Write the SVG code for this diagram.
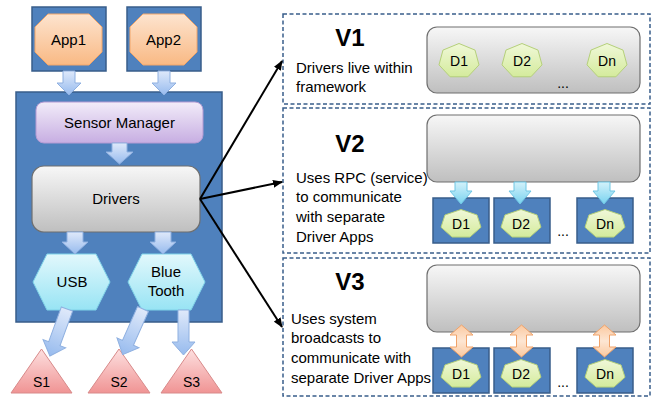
<svg xmlns="http://www.w3.org/2000/svg" xmlns:xlink="http://www.w3.org/1999/xlink" width="652" height="399" viewBox="0 0 652 399">
<defs>
<linearGradient id="gOrange" x1="0" y1="0" x2="0" y2="1"><stop offset="0" stop-color="#fde4cf"/><stop offset="1" stop-color="#f9b984"/></linearGradient>
<linearGradient id="gPurple" x1="0" y1="0" x2="0" y2="1"><stop offset="0" stop-color="#f2ecf9"/><stop offset="1" stop-color="#c7aee2"/></linearGradient>
<linearGradient id="gGray" x1="0" y1="0" x2="0" y2="1"><stop offset="0" stop-color="#f7f7f7"/><stop offset="1" stop-color="#bfbfbf"/></linearGradient>
<linearGradient id="gCyan" x1="0" y1="0" x2="0" y2="1"><stop offset="0" stop-color="#e2f8fc"/><stop offset="1" stop-color="#98e4f4"/></linearGradient>
<linearGradient id="gRed" x1="0" y1="0" x2="0" y2="1"><stop offset="0" stop-color="#fde0e0"/><stop offset="1" stop-color="#f09494"/></linearGradient>
<linearGradient id="gGreen" x1="0" y1="0" x2="0" y2="1"><stop offset="0" stop-color="#f0f8d8"/><stop offset="1" stop-color="#d4eb9c"/></linearGradient>
<linearGradient id="gBlueArrow" x1="0" y1="0" x2="0" y2="1"><stop offset="0" stop-color="#dfe9fa"/><stop offset="1" stop-color="#97bbee"/></linearGradient>
<linearGradient id="gCyanArrow" x1="0" y1="0" x2="0" y2="1"><stop offset="0" stop-color="#d3f2fb"/><stop offset="1" stop-color="#79d3ef"/></linearGradient>
<linearGradient id="gOrangeArrow" x1="0" y1="0" x2="0" y2="1"><stop offset="0" stop-color="#fbc9a0"/><stop offset="0.5" stop-color="#fde6d3"/><stop offset="1" stop-color="#fbc9a0"/></linearGradient>
<marker id="ah" markerWidth="10" markerHeight="8" refX="9" refY="4" orient="auto" markerUnits="userSpaceOnUse"><path d="M0,0 L10,4 L0,8 Z" fill="#000"/></marker>
<polygon id="h1" points="0,-17.5 16.03,-10.91 19.99,3.89 8.9,15.77 -8.9,15.77 -19.99,3.89 -16.03,-10.91"/>
<polygon id="h2" points="0,-14.5 16.03,-9.04 19.99,3.23 8.9,13.06 -8.9,13.06 -19.99,3.23 -16.03,-9.04"/>
<path id="diag" d="M-6,0 H6 V37 H12 L0,50 L-12,37 H-6 Z"/>
</defs>
<style>
text{font-family:"Liberation Sans",Arial,sans-serif;fill:#000}
.blue{fill:#4f81bd;stroke:#385d8a;stroke-width:1.5}
.oct{fill:url(#gOrange);stroke:#f2a66a;stroke-width:1}
.sm{fill:url(#gPurple);stroke:#b49ad3;stroke-width:1}
.gray{fill:url(#gGray);stroke:#6f6f6f;stroke-width:1.2}
.hex{fill:url(#gCyan);stroke:#7fd3e8;stroke-width:1}
.tri{fill:url(#gRed);stroke:#d88a8a;stroke-width:1}
.hept{fill:url(#gGreen);stroke:#b5d07a;stroke-width:1}
.barrow{fill:url(#gBlueArrow);stroke:#8fb0e0;stroke-width:1}
.carrow{fill:url(#gCyanArrow);stroke:#6fc6e4;stroke-width:1}
.oarrow{fill:url(#gOrangeArrow);stroke:#f0a36a;stroke-width:1}
.dash{fill:#fff;stroke:#385d8a;stroke-width:1.5;stroke-dasharray:4 2.5}
.lbl{font-size:15px;text-anchor:middle}
.dl{font-size:14px;text-anchor:middle}
.desc{font-size:15px}
.title{font-size:24px;font-weight:bold;text-anchor:middle}
.conn{stroke:#000;stroke-width:2;fill:none;marker-end:url(#ah)}
</style>
<rect width="652" height="399" fill="#fff"/>

<g id="app1"><rect class="blue" x="32" y="7" width="74" height="64"/><polygon class="oct" points="48,14 89,14 102,27 102,52 89,65 48,65 35,52 35,27"/><text class="lbl" x="68.5" y="45">App1</text></g>
<g id="app2"><rect class="blue" x="127" y="7" width="74" height="64"/><polygon class="oct" points="143,14 184,14 197,27 197,52 184,65 143,65 130,52 130,27"/><text class="lbl" x="163.5" y="45">App2</text></g>

<g id="framework"><rect class="blue" x="16" y="92" width="206" height="230"/></g>
<g id="sensor-manager"><rect class="sm" x="36" y="102" width="167" height="41" rx="8"/><text class="lbl" x="119.5" y="128">Sensor Manager</text></g>
<g id="drivers"><rect class="gray" x="32" y="166" width="168" height="66" rx="12"/><text class="lbl" x="116" y="204">Drivers</text></g>
<g id="usb"><polygon class="hex" points="33,282 47,254 96,254 110,282 96,310 47,310"/><text class="lbl" x="72" y="287">USB</text></g>
<g id="bluetooth"><polygon class="hex" points="128,282 142,254 191,254 205,282 191,310 142,310"/><text class="lbl" x="166" y="277">Blue</text><text class="lbl" x="166" y="296">Tooth</text></g>
<g id="s1"><polygon class="tri" points="11,393 41.5,349 72,393"/><text class="dl" x="41.5" y="387">S1</text></g>
<g id="s2"><polygon class="tri" points="88,393 119,349 150,393"/><text class="dl" x="119" y="387">S2</text></g>
<g id="s3"><polygon class="tri" points="161,393 191.5,349 222,393"/><text class="dl" x="191.5" y="387">S3</text></g>

<g id="v1"><rect class="dash" x="283" y="14" width="367" height="90"/><text class="title" x="350" y="46">V1</text><text class="desc" x="296" y="73">Drivers live within</text><text class="desc" x="296" y="92">framework</text>
<rect class="gray" x="427" y="27" width="213" height="66" rx="10"/>
<use href="#h1" class="hept" x="459" y="61"/><text class="dl" x="459" y="66">D1</text>
<use href="#h1" class="hept" x="522" y="61"/><text class="dl" x="522" y="66">D2</text>
<use href="#h1" class="hept" x="607" y="61"/><text class="dl" x="607" y="66">Dn</text>
<text class="dl" x="563" y="88">...</text></g>

<g id="v2"><rect class="dash" x="283" y="108" width="367" height="145"/><text class="title" x="350" y="152">V2</text>
<text class="desc" x="296" y="183">Uses RPC (service)</text><text class="desc" x="296" y="202">to communicate</text><text class="desc" x="296" y="222">with separate</text><text class="desc" x="296" y="242">Driver Apps</text>
<rect class="gray" x="427" y="115" width="213" height="67" rx="10"/>
<rect class="blue" x="433" y="198" width="56" height="45"/><rect class="blue" x="494" y="198" width="56" height="45"/><rect class="blue" x="577" y="198" width="56" height="45"/>
<use href="#h2" class="hept" x="461" y="224"/><text class="dl" x="461" y="229">D1</text>
<use href="#h2" class="hept" x="521" y="224"/><text class="dl" x="521" y="229">D2</text>
<use href="#h2" class="hept" x="605" y="224"/><text class="dl" x="605" y="229">Dn</text>
<text class="dl" x="563" y="236">...</text></g>

<g id="v3"><rect class="dash" x="283" y="258" width="367" height="138"/><text class="title" x="350" y="290">V3</text>
<text class="desc" x="291" y="324">Uses system</text><text class="desc" x="291" y="343">broadcasts to</text><text class="desc" x="291" y="363">communicate with</text><text class="desc" x="291" y="383">separate Driver Apps</text>
<rect class="gray" x="427" y="265" width="213" height="67" rx="10"/>
<rect class="blue" x="433" y="348" width="56" height="45"/><rect class="blue" x="494" y="348" width="56" height="45"/><rect class="blue" x="577" y="348" width="56" height="45"/>
<use href="#h2" class="hept" x="461" y="374"/><text class="dl" x="461" y="379">D1</text>
<use href="#h2" class="hept" x="521" y="374"/><text class="dl" x="521" y="379">D2</text>
<use href="#h2" class="hept" x="605" y="374"/><text class="dl" x="605" y="379">Dn</text>
<text class="dl" x="563" y="387">...</text></g>

<g id="connectors">
<path class="barrow" d="M63,71 H75 V83 H81 L69,95 L57,83 H63 Z"/>
<path class="barrow" d="M158,71 H170 V83 H176 L164,95 L152,83 H158 Z"/>
<path class="barrow" d="M112,143 H127 V152 H133 L119.5,164 L106,152 H112 Z"/>
<path class="barrow" d="M67,232 H83 V242 H88 L75,254 L62,242 H67 Z"/>
<path class="barrow" d="M155,232 H171 V242 H176 L163,254 L150,242 H155 Z"/>
<use href="#diag" class="barrow" transform="translate(67,309) rotate(20)"/>
<use href="#diag" class="barrow" transform="translate(143,309) rotate(24)"/>
<path class="barrow" d="M178,310 H189 V342 H195 L183.5,355 L172,342 H178 Z"/>
<path class="carrow" d="M455,182 H467 V191 H472 L461,204 L450,191 H455 Z"/>
<path class="carrow" d="M514,182 H526 V191 H531 L520,204 L509,191 H514 Z"/>
<path class="carrow" d="M598,182 H610 V191 H615 L604,204 L593,191 H598 Z"/>
<path class="oarrow" d="M461.5,325 L473,335 H466.5 V347 H473 L461.5,357 L450,347 H456.5 V335 H450 Z"/>
<path class="oarrow" d="M521.5,325 L533,335 H526.5 V347 H533 L521.5,357 L510,347 H516.5 V335 H510 Z"/>
<path class="oarrow" d="M604.5,325 L616,335 H609.5 V347 H616 L604.5,357 L593,347 H599.5 V335 H593 Z"/>
<line class="conn" x1="200" y1="199" x2="282" y2="61"/>
<line class="conn" x1="200" y1="199" x2="282" y2="182"/>
<line class="conn" x1="200" y1="199" x2="282" y2="327"/>
</g>
</svg>
